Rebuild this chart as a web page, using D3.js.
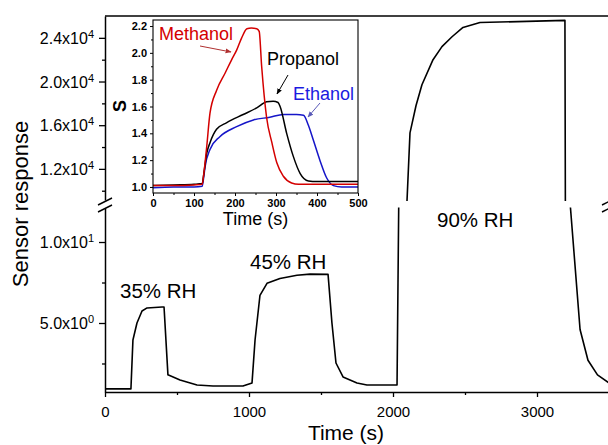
<!DOCTYPE html>
<html><head><meta charset="utf-8">
<script src="https://cdn.jsdelivr.net/npm/d3@7"></script>
<style>
body{margin:0;background:#fff}
svg{display:block}
text{font-family:"Liberation Sans",Arial,Helvetica,sans-serif;fill:#000}
</style>
</head><body>
<svg id="c" width="608" height="445"></svg>
<script>
// ---------- main chart data ----------
const mainTime = [0, 180, 194, 222, 257, 292, 396, 410, 437, 521, 639, 750, 958, 1021, 1042, 1076, 1125, 1215, 1333, 1424, 1549, 1576, 1604, 1653, 1750, 1819, 2028, 2040, 2097, 2118, 2160, 2201, 2278, 2340, 2410, 2486, 2604, 3194, 3197, 3229, 3299, 3354, 3420, 3500];
const mainResponse = [0.93, 0.93, 3.95, 5.0, 5.74, 5.93, 5.99, 5.99, 1.8, 1.48, 1.17, 1.11, 1.11, 1.3, 3.95, 6.7, 7.45, 7.75, 7.95, 8.02, 8.0, 5.0, 2.53, 1.67, 1.3, 1.17, 1.17, 12.5, 9000, 15300, 17800, 19700, 22000, 23200, 24100, 24950, 25400, 25600, 9000, 12.5, 4.6, 2.7, 1.8, 1.3];
const xTickValues = [0, 1000, 2000, 3000];
const xMinorTicks = [500, 1500, 2500, 3500];
const highTickValues = [12000, 16000, 20000, 24000];
const highTickMantissa = ["1.2", "1.6", "2.0", "2.4"];
const highTickExponent = ["4", "4", "4", "4"];
const highMinorTicks = [10000, 14000, 18000, 22000];
const lowTickValues = [5, 10];
const lowTickMantissa = ["5.0", "1.0"];
const lowTickExponent = ["0", "1"];
const lowMinorTicks = [2.5, 7.5];
const rhLabels = ["35% RH", "45% RH", "90% RH"];

// ---------- inset data ----------
const methanolTime = [0, 50, 100, 120, 124, 131, 139, 155, 176, 192, 204, 216, 229, 240, 253, 259, 265, 277, 290, 302, 318, 338, 355, 400, 450, 500];
const methanolS = [1.01, 1.01, 1.015, 1.02, 1.1, 1.30, 1.55, 1.72, 1.85, 1.95, 2.02, 2.11, 2.18, 2.185, 2.18, 2.16, 1.90, 1.52, 1.33, 1.18, 1.08, 1.03, 1.02, 1.02, 1.02, 1.02];
const propanolTime = [0, 50, 100, 120, 124, 131, 139, 155, 180, 220, 253, 277, 293, 305, 310, 326, 342, 359, 379, 400, 450, 500];
const propanolS = [1.01, 1.015, 1.02, 1.025, 1.1, 1.25, 1.33, 1.43, 1.48, 1.54, 1.59, 1.635, 1.64, 1.63, 1.60, 1.40, 1.23, 1.10, 1.045, 1.04, 1.04, 1.04];
const ethanolTime = [0, 50, 100, 120, 124, 127, 139, 163, 204, 245, 285, 318, 350, 367, 379, 391, 407, 424, 440, 460, 500];
const ethanolS = [0.995, 1.0, 1.0, 1.005, 1.08, 1.15, 1.28, 1.375, 1.45, 1.50, 1.52, 1.54, 1.54, 1.535, 1.46, 1.35, 1.20, 1.065, 1.01, 1.0, 1.0];
const insetXTicks = [0, 100, 200, 300, 400, 500];
const insetXMinor = [50, 150, 250, 350, 450];
const insetYTicks = [1.0, 1.2, 1.4, 1.6, 1.8, 2.0, 2.2];
const insetYMinor = [1.1, 1.3, 1.5, 1.7, 1.9, 2.1];
const seriesNames = ["Methanol", "Propanol", "Ethanol"];
const seriesColors = ["#d40000", "#000000", "#1515c8"];

// ---------- drawing ----------
const svg = d3.select("#c");
svg.append("rect").attr("width", 608).attr("height", 445).attr("fill", "#fff");

const x = d3.scaleLinear().domain([0, 3500]).range([105, 609]);
const yHigh = d3.scaleLinear().domain([9150, 26000]).range([200, 16]);
const yLow = d3.scaleLinear().domain([0.74, 12.1]).range([392, 208]);

const defs = svg.append("defs");
defs.append("clipPath").attr("id", "clipHigh").append("rect")
  .attr("x", 105).attr("y", 16).attr("width", 504).attr("height", 185);
defs.append("clipPath").attr("id", "clipLow").append("rect")
  .attr("x", 105).attr("y", 207.5).attr("width", 504).attr("height", 184.5);

const mainData = mainTime.map((t, i) => ({t, v: mainResponse[i]}));
const lineHigh = d3.line().x(d => x(d.t)).y(d => yHigh(d.v));
const lineLow = d3.line().x(d => x(d.t)).y(d => yLow(d.v));
svg.append("path").attr("d", lineHigh(mainData)).attr("clip-path", "url(#clipHigh)")
  .attr("fill", "none").attr("stroke", "#000").attr("stroke-width", 1.6).attr("stroke-linejoin", "round");
svg.append("path").attr("d", lineLow(mainData)).attr("clip-path", "url(#clipLow)")
  .attr("fill", "none").attr("stroke", "#000").attr("stroke-width", 1.6).attr("stroke-linejoin", "round");

function styleAxis(g, fs) {
  g.selectAll("path.domain").attr("stroke", "#000").attr("stroke-width", 1.5);
  g.selectAll(".tick line").attr("stroke", "#000").attr("stroke-width", 1.3);
  g.selectAll(".tick text").attr("fill", "#000").attr("font-size", fs)
    .attr("font-family", '"Liberation Sans",Arial,sans-serif');
}

// bottom axis
const gx = svg.append("g").attr("transform", "translate(0,392)")
  .call(d3.axisBottom(x).tickValues(xTickValues).tickSize(5).tickSizeOuter(0).tickFormat(d3.format("d")));
styleAxis(gx, 15);
gx.selectAll(".tick text").attr("y", 14).attr("dy", "0.71em");
const gxm = svg.append("g").attr("transform", "translate(0,392)")
  .call(d3.axisBottom(x).tickValues(xMinorTicks).tickSize(3).tickFormat(""));
gxm.select("path.domain").remove();
styleAxis(gxm, 15);

// top frame line
svg.append("line").attr("x1", 105).attr("x2", 609).attr("y1", 16).attr("y2", 16)
  .attr("stroke", "#000").attr("stroke-width", 1.5);

function sciLabels(g, mant, expo) {
  g.selectAll(".tick text").each(function(d, i) {
    const t = d3.select(this);
    t.text(null).attr("text-anchor", "end").attr("x", -11).attr("dy", "0.36em");
    t.append("tspan").text(mant[i] + "x10");
    t.append("tspan").attr("dy", "-0.55em").attr("font-size", 11).text(expo[i]);
  });
}

// left axis upper
const gyh = svg.append("g").attr("transform", "translate(105,0)")
  .call(d3.axisLeft(yHigh).tickValues(highTickValues).tickSize(6).tickSizeOuter(0));
styleAxis(gyh, 16);
sciLabels(gyh, highTickMantissa, highTickExponent);
const gyhm = svg.append("g").attr("transform", "translate(105,0)")
  .call(d3.axisLeft(yHigh).tickValues(highMinorTicks).tickSize(3).tickFormat(""));
gyhm.select("path.domain").remove();
styleAxis(gyhm, 16);

// left axis lower
const gyl = svg.append("g").attr("transform", "translate(105,0)")
  .call(d3.axisLeft(yLow).tickValues(lowTickValues).tickSize(6).tickSizeOuter(0));
styleAxis(gyl, 16);
sciLabels(gyl, lowTickMantissa, lowTickExponent);
const gylm = svg.append("g").attr("transform", "translate(105,0)")
  .call(d3.axisLeft(yLow).tickValues(lowMinorTicks).tickSize(3).tickFormat(""));
gylm.select("path.domain").remove();
styleAxis(gylm, 16);

// axis break marks
[105, 609].forEach(cx => {
  [0, 7].forEach(off => {
    svg.append("line").attr("x1", cx - 7).attr("y1", 205 + off).attr("x2", cx + 7).attr("y2", 198 + off)
      .attr("stroke", "#000").attr("stroke-width", 1.4);
  });
});

// axis titles
svg.append("text").attr("x", 346).attr("y", 440).attr("text-anchor", "middle")
  .attr("font-size", 21).text("Time (s)");
svg.append("text").attr("transform", "translate(28,204) rotate(-90)").attr("text-anchor", "middle")
  .attr("font-size", 22).text("Sensor response");

// RH labels
const rhPos = [[120, 298], [250, 269], [437, 227]];
rhLabels.forEach((s, i) => {
  svg.append("text").attr("x", rhPos[i][0]).attr("y", rhPos[i][1]).attr("font-size", 20.5).text(s);
});

// ---------- inset ----------
const ix = d3.scaleLinear().domain([0, 500]).range([153, 358]);
const iy = d3.scaleLinear().domain([0.955, 2.245]).range([193, 20]);
const inset = svg.append("g");
inset.append("rect").attr("x", 153).attr("y", 20).attr("width", 205).attr("height", 173)
  .attr("fill", "#fff").attr("stroke", "none");

const iline = d3.line().x(d => ix(d.t)).y(d => iy(d.s)).curve(d3.curveMonotoneX);
const seriesData = [
  methanolTime.map((t, i) => ({t, s: methanolS[i]})),
  propanolTime.map((t, i) => ({t, s: propanolS[i]})),
  ethanolTime.map((t, i) => ({t, s: ethanolS[i]}))
];
[2, 1, 0].forEach(k => {
  inset.append("path").attr("d", iline(seriesData[k])).attr("fill", "none")
    .attr("stroke", seriesColors[k]).attr("stroke-width", 1.5).attr("stroke-linejoin", "round");
});

inset.append("rect").attr("x", 153).attr("y", 20).attr("width", 205).attr("height", 173)
  .attr("fill", "none").attr("stroke", "#000").attr("stroke-width", 1.1);

function styleInset(g) {
  g.selectAll("path.domain").remove();
  g.selectAll(".tick line").attr("stroke", "#000").attr("stroke-width", 1);
  g.selectAll(".tick text").attr("fill", "#000").attr("font-size", 11).attr("font-weight", "bold")
    .attr("font-family", '"Liberation Sans",Arial,sans-serif');
}
const ixa = inset.append("g").attr("transform", "translate(0,193)")
  .call(d3.axisBottom(ix).tickValues(insetXTicks).tickSize(3).tickPadding(3).tickFormat(d3.format("d")));
styleInset(ixa);
const ixm = inset.append("g").attr("transform", "translate(0,193)")
  .call(d3.axisBottom(ix).tickValues(insetXMinor).tickSize(2).tickFormat(""));
styleInset(ixm);
const iya = inset.append("g").attr("transform", "translate(153,0)")
  .call(d3.axisLeft(iy).tickValues(insetYTicks).tickSize(3).tickPadding(3).tickFormat(d3.format(".1f")));
styleInset(iya);
const iym = inset.append("g").attr("transform", "translate(153,0)")
  .call(d3.axisLeft(iy).tickValues(insetYMinor).tickSize(2).tickFormat(""));
styleInset(iym);

inset.append("text").attr("x", 255.5).attr("y", 225).attr("text-anchor", "middle")
  .attr("font-size", 18).text("Time (s)");
inset.append("text").attr("transform", "translate(126,106) rotate(-90)").attr("text-anchor", "middle")
  .attr("font-size", 18).attr("font-weight", "bold").text("S");

// series labels + arrows
const labelPos = [[159, 40], [267, 65], [293, 100]];
const labelColors = ["#d40000", "#000000", "#1a1ae0"];
const arrowColors = ["#b03030", "#000000", "#5a5ab8"];
const arrows = [[[200, 46], [231, 52]], [[288, 75], [277, 94]], [[320, 103], [308, 117]]];
seriesNames.forEach((n, i) => {
  inset.append("text").attr("x", labelPos[i][0]).attr("y", labelPos[i][1]).attr("font-size", 18)
    .style("fill", labelColors[i]).text(n);
  const [p0, p1] = arrows[i];
  defs.append("marker").attr("id", "ah" + i).attr("viewBox", "0 0 10 10").attr("refX", 9).attr("refY", 5)
    .attr("markerWidth", 6).attr("markerHeight", 6).attr("orient", "auto").attr("markerUnits", "userSpaceOnUse")
    .append("path").attr("d", "M0,1 L10,5 L0,9 Z").attr("fill", arrowColors[i]);
  inset.append("line").attr("x1", p0[0]).attr("y1", p0[1]).attr("x2", p1[0]).attr("y2", p1[1])
    .attr("stroke", arrowColors[i]).attr("stroke-width", 1).attr("marker-end", "url(#ah" + i + ")");
});
</script>
</body></html>
